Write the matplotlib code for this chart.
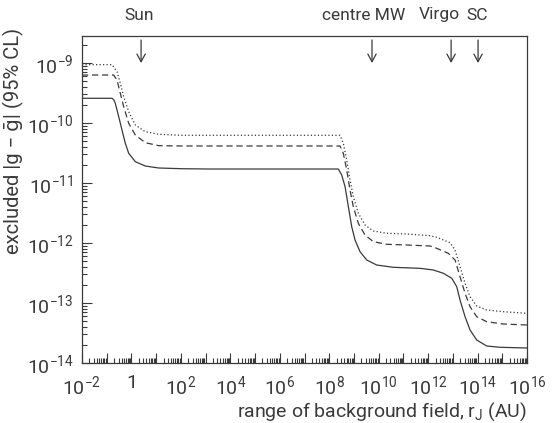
import numpy as np
import matplotlib
matplotlib.use("Agg")
import matplotlib.pyplot as plt
from matplotlib.ticker import LogLocator, FixedLocator, FuncFormatter, NullFormatter

plt.rcParams['font.family'] = ['Roboto', 'DejaVu Sans']
plt.rcParams['font.weight'] = 'normal'
plt.rcParams['mathtext.fontset'] = 'custom'
plt.rcParams['mathtext.rm'] = 'Roboto'
plt.rcParams['mathtext.default'] = 'regular'

INK = '#3a3a3a'

# exponents: log10(r_J / AU) and log10(|g - gbar|)
solid_logr = [-2, -0.786, -0.72, -0.653, -0.515, -0.382, -0.248, -0.111, 0.156, 0.561, 1.103, 2.045, 3.178,
              8.368, 8.505, 8.64, 8.775, 8.91, 9.044, 9.246, 9.517, 9.921, 10.595, 11.673, 12.212, 12.617,
              12.956, 13.158, 13.291, 13.494, 13.696, 13.966, 14.371, 14.909, 16]
solid_logg = [-9.588, -9.588, -9.61, -9.672, -9.895, -10.117, -10.338, -10.505, -10.645, -10.717, -10.75, -10.762, -10.767,
              -10.767, -10.867, -11.06, -11.395, -11.728, -11.95, -12.145, -12.283, -12.367, -12.405, -12.422, -12.45, -12.505,
              -12.588, -12.728, -12.95, -13.228, -13.45, -13.617, -13.717, -13.738, -13.75]

dashed_logr = [-2, -0.72, -0.584, -0.45, -0.313, -0.111, 0.156, 0.561, 1.103, 2.045,
               8.437, 8.57, 8.708, 8.841, 8.975, 9.178, 9.448, 9.784, 10.326, 11.135, 12.078, 12.347, 12.817,
               13.089, 13.291, 13.494, 13.696, 13.966, 14.371, 15.045, 16]
dashed_logg = [-9.2, -9.2, -9.283, -9.505, -9.728, -10.005, -10.2, -10.328, -10.378, -10.383,
               -10.383, -10.505, -10.783, -11.117, -11.395, -11.672, -11.867, -11.978, -12.022, -12.033, -12.05, -12.088, -12.172,
               -12.283, -12.562, -12.838, -13.062, -13.228, -13.312, -13.35, -13.367]

dotted_logr = [-2, -0.786, -0.584, -0.45, -0.313, -0.111, 0.156, 0.561, 1.103, 2.045,
               8.437, 8.57, 8.708, 8.841, 8.975, 9.178, 9.448, 9.784, 10.326, 11.135, 12.078, 12.347, 12.887,
               13.089, 13.291, 13.494, 13.696, 13.966, 14.371, 15.045, 16]
dotted_logg = [-9.028, -9.028, -9.145, -9.338, -9.562, -9.812, -10.033, -10.145, -10.188, -10.205,
               -10.205, -10.338, -10.617, -10.95, -11.228, -11.505, -11.7, -11.8, -11.838, -11.85, -11.878, -11.905, -11.995,
               -12.117, -12.395, -12.672, -12.895, -13.05, -13.117, -13.145, -13.172]

marker_names = ['Sun', 'centre MW', 'Virgo', 'SC']
marker_arrow_logr = [0.39, 9.73, 12.93, 14.02]
marker_text_logr = [0.31, 9.41, 12.45, 13.98]

fig = plt.figure(figsize=(5.52, 4.23), dpi=100)
ax = fig.add_axes([82/552, 60/423, 445/552, 327/423])

def p(a):
    return 10.0 ** np.asarray(a)

ax.plot(p(solid_logr), p(solid_logg), color=INK, lw=0.9, ls='-')
ax.plot(p(dashed_logr), p(dashed_logg), color=INK, lw=0.9, ls=(0, (5, 3)))
ax.plot(p(dotted_logr), p(dotted_logg), color=INK, lw=0.9, ls=(0, (1, 1.8)))

ax.set_xscale('log')
ax.set_yscale('log')
ax.set_xlim(1e-2, 1e16)
ax.set_ylim(1e-14, 10 ** -8.55)

ax.xaxis.set_major_locator(FixedLocator([10.0 ** k for k in range(-2, 17)]))
ax.xaxis.set_minor_locator(LogLocator(base=10, subs=np.arange(2, 10), numticks=100))
ax.yaxis.set_major_locator(FixedLocator([10.0 ** k for k in range(-14, -8)]))
ax.yaxis.set_minor_locator(LogLocator(base=10, subs=np.arange(2, 10), numticks=100))

def xfmt(v, pos):
    k = int(round(np.log10(v)))
    if k % 2:
        return ''
    if k == 0:
        return '1'
    return r'$10^{%d}$' % k

def yfmt(v, pos):
    k = int(round(np.log10(v)))
    return r'$10^{%d}$' % k

ax.xaxis.set_major_formatter(FuncFormatter(xfmt))
ax.yaxis.set_major_formatter(FuncFormatter(yfmt))
ax.xaxis.set_minor_formatter(NullFormatter())
ax.yaxis.set_minor_formatter(NullFormatter())

ax.tick_params(which='both', direction='in', top=False, right=False, color=INK,
               labelcolor=INK, labelsize=14, width=0.8)
ax.tick_params(which='major', length=7)
ax.tick_params(which='minor', length=3.5)
ax.tick_params(axis='x', which='major', pad=8)
ax.tick_params(axis='y', which='major', pad=6)

for s in ax.spines.values():
    s.set_color(INK)
    s.set_linewidth(0.9)

ax.set_xlabel('range of background field, r$_J$ (AU)', fontsize=14, color=INK,
              loc='right', labelpad=2)
ax.set_ylabel('excluded |g \u2212 \u1e21| (95% CL)', fontsize=14.5, color=INK, loc='top')
ax.yaxis.set_label_coords(-0.13, 1.025, transform=ax.transAxes)

trans = ax.get_xaxis_transform()
for lr in marker_arrow_logr:
    ax.annotate('', xy=(10.0 ** lr, (363 - 63) / 327), xytext=(10.0 ** lr, (363 - 40) / 327),
                xycoords=trans, textcoords=trans,
                arrowprops=dict(arrowstyle='->,head_length=0.55,head_width=0.3', color=INK, lw=0.9,
                                shrinkA=0, shrinkB=0))
for name, lr in zip(marker_names, marker_text_logr):
    ax.text(10.0 ** lr, (363 - 15) / 327, name, transform=trans, ha='center', va='center',
            fontsize=12.5, color=INK, clip_on=False)

fig.savefig('out.png', dpi=100)
